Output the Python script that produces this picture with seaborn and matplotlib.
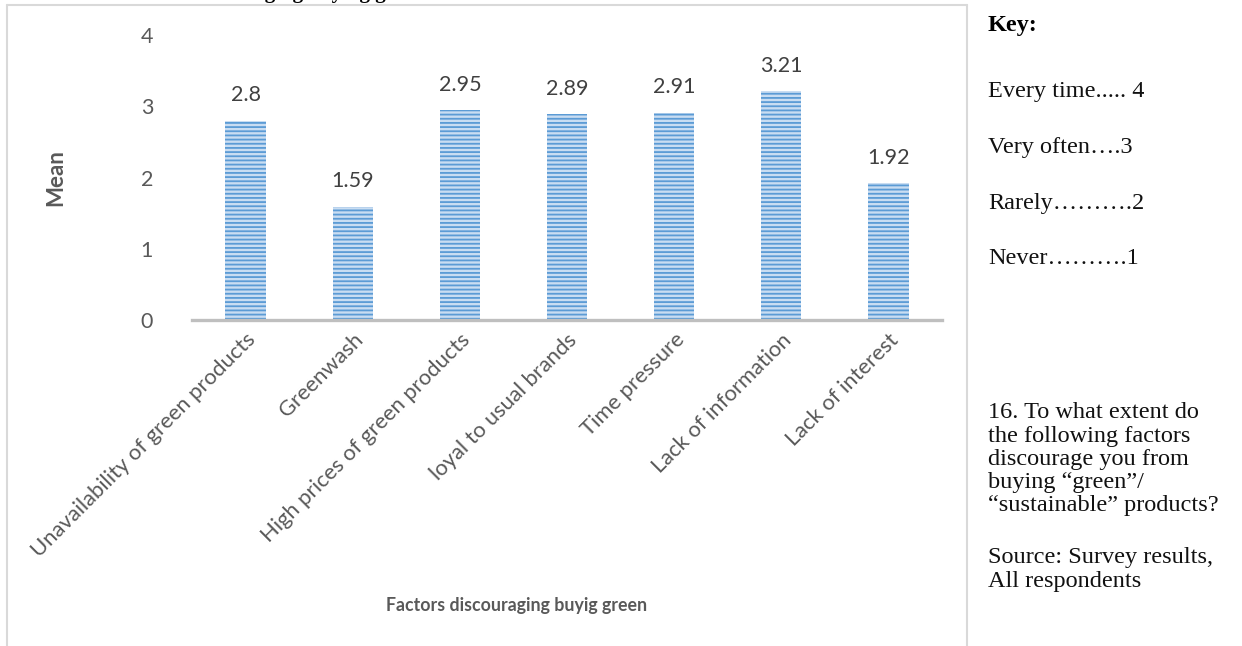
import matplotlib
matplotlib.use("Agg")
import matplotlib.pyplot as plt
from matplotlib.lines import Line2D
import seaborn as sns
import pandas as pd

# Survey question 16: mean rating of each discouraging factor (1 = never, 4 = every time)
factors = [
    "Unavailability of green products",
    "Greenwash",
    "High prices of green products",
    "loyal to usual brands",
    "Time pressure",
    "Lack of information",
    "Lack of interest",
]
means = [2.8, 1.59, 2.95, 2.89, 2.91, 3.21, 1.92]
y_ticks = [0, 1, 2, 3, 4]

key_lines = [
    "Every time..... 4",
    "Very often\u2026.3",
    "Rarely\u2026\u2026\u2026.2",
    "Never\u2026\u2026\u2026.1",
]
question_lines = [
    "16. To what extent do",
    "the following factors",
    "discourage you from",
    "buying \u201cgreen\u201d/",
    "\u201csustainable\u201d products?",
]
source_lines = ["Source: Survey results,", "All respondents"]

sns.set_theme(style="white")
plt.rcParams["font.family"] = ["Lato", "DejaVu Sans"]
plt.rcParams["hatch.linewidth"] = 1.3

W, H = 1242, 646
fig = plt.figure(figsize=(W / 100, H / 100), dpi=100)

def fx(px):
    return px / W

def fy(py):
    return 1 - py / H

ax = fig.add_axes([fx(192), fy(320), fx(942) - fx(192), fy(35) - fy(320)])

df = pd.DataFrame({"factor": factors, "mean": means})
sns.barplot(data=df, x="factor", y="mean", ax=ax, color="#C9DDF2",
            saturation=1, width=0.375)

for p in ax.patches:
    p.set_hatch("----")
    p.set_edgecolor("#5B9BD5")
    p.set_linewidth(0)

ax.bar_label(ax.containers[0], fmt="{:g}", padding=11, fontsize=15.5,
             color="#404040")

ax.set_ylim(0, 4)
ax.set_xlim(-0.5, len(factors) - 0.5)
ax.set_yticks(y_ticks)
ax.tick_params(axis="y", length=0, pad=28, labelsize=15.5, labelcolor="#595959")
ax.tick_params(axis="x", length=0, pad=7, labelsize=15.8, labelcolor="#595959")
ax.set_xticks(range(len(factors)))
ax.set_xticklabels(factors, rotation=45, ha="right", rotation_mode="anchor")

for s in ["top", "right", "left"]:
    ax.spines[s].set_visible(False)
ax.spines["bottom"].set_color("#BFBFBF")
ax.spines["bottom"].set_linewidth(2.4)

ax.set_xlabel("")
ax.set_ylabel("")
fig.text(fx(56), fy(178), "Mean", rotation=90, ha="center", va="center",
         fontsize=16, fontweight="bold", color="#595959")
fig.text(fx(517), fy(606), "Factors discouraging buyig green", ha="center",
         va="center", fontsize=12.8, fontweight="bold", color="#595959")

# chart frame (open at the bottom)
frame_kw = dict(color="#D9D9D9", linewidth=1.5, transform=fig.transFigure)
fig.add_artist(Line2D([fx(7), fx(967)], [fy(5), fy(5)], **frame_kw))
fig.add_artist(Line2D([fx(7), fx(7)], [fy(5), 0], **frame_kw))
fig.add_artist(Line2D([fx(967), fx(967)], [fy(5), 0], **frame_kw))

# heading running above the chart box
serif = ["Liberation Serif", "DejaVu Serif"]
fig.text(fx(425), fy(-2), "Factors discouraging buying green", ha="right",
         va="baseline", fontsize=15, fontweight="bold", color="black",
         family=serif)

fig.text(fx(988), fy(25), "Key:", ha="left", va="center", fontsize=17.5,
         fontweight="bold", color="black", family=serif)
for i, line in enumerate(key_lines):
    fig.text(fx(988), fy(91 + i * 56), line, ha="left", va="center",
             fontsize=17.5, color="#111111", family=serif)
for i, line in enumerate(question_lines):
    fig.text(fx(988), fy(413 + i * 23.2), line, ha="left", va="center",
             fontsize=17.5, color="#111111", family=serif)
for i, line in enumerate(source_lines):
    fig.text(fx(988), fy(558 + i * 23.2), line, ha="left", va="center",
             fontsize=17.5, color="#111111", family=serif)

fig.savefig("out.png", dpi=100)
